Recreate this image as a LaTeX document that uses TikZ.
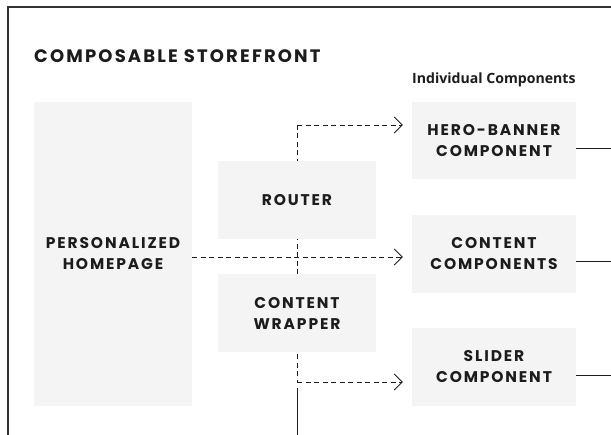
\documentclass[tikz,border=0pt]{standalone}
\usepackage{fontspec}
\usepackage{xcolor}
\usetikzlibrary{arrows.meta,backgrounds}
\setmainfont{Poppins}
\newfontfamily\capsfont[LetterSpace=12]{Poppins}
\newfontfamily\notefont{Open Sans}
\definecolor{boxcolor}{HTML}{F4F4F4}
\definecolor{inkcolor}{HTML}{1C1C1C}
\definecolor{framecolor}{HTML}{333333}

\tikzset{
  compbox/.style={fill=boxcolor, inner sep=0pt, align=center, text=inkcolor,
    font=\capsfont\bfseries\fontsize{15.5}{21}\selectfont},
  dashline/.style={draw=inkcolor, line width=0.9pt, dash pattern=on 5pt off 3.5pt},
  dasharrow/.style={dashline, -{Straight Barb[length=8pt,width=16pt,line width=0.9pt]}},
  solidline/.style={draw=inkcolor, line width=0.9pt}
}

\begin{document}
\begin{tikzpicture}[x=1pt, y=-1pt]
                        \useasboundingbox (0,0) rectangle (611,435);
                        \draw[framecolor, line width=1.3pt] (8,435) -- (8,7) -- (611,7);
                        \node[anchor=base west, text=inkcolor, font=\capsfont\bfseries\fontsize{18}{18}\selectfont, inner sep=0pt] (title) at (34,62.7) {COMPOSABLE STOREFRONT};
                        \node[anchor=base west, text=inkcolor, font=\notefont\bfseries\fontsize{14.1}{14.1}\selectfont, inner sep=0pt] (indiv) at (412,84) {Individual Components};
                        \node[compbox, minimum width=158pt, minimum height=304pt] (home) at (113,254) {PERSONALIZED\\HOMEPAGE};
                        \node[compbox, minimum width=158pt, minimum height=78pt] (router) at (297,200) {ROUTER};
                        \node[compbox, minimum width=158pt, minimum height=78pt] (wrapper) at (297,313) {CONTENT\\WRAPPER};
                        \node[compbox, minimum width=164pt, minimum height=77pt] (hero) at (494,140.5) {HERO-BANNER\\COMPONENT};
                        \node[compbox, minimum width=164pt, minimum height=78pt] (content) at (494,254) {CONTENT\\COMPONENTS};
                        \node[compbox, minimum width=164pt, minimum height=78pt] (slider) at (494,367) {SLIDER\\COMPONENT};
                        \coordinate (forktop) at (297,125);
                        \coordinate (forkbot) at (297,382);
                        \coordinate (wraptail) at (297,388);
                        \coordinate (wrapend) at (297,435);
                        \coordinate (heroout) at (611,148);
                        \coordinate (contentout) at (611,261);
                        \coordinate (sliderout) at (611,375);
                        \begin{scope}[on background layer]
                        \draw[dashline] (forktop) -- (forkbot);
                        \end{scope}
                        \draw[dasharrow] (forktop) -- ([xshift=-9pt]hero.west |- forktop);
                        \draw[dasharrow] ([yshift=-3pt]home.east) -- ([xshift=-9pt,yshift=-3pt]content.west);
                        \draw[dasharrow] (forkbot) -- ([xshift=-9pt]slider.west |- forkbot);
                        \draw[solidline] (wraptail) -- (wrapend);
                        \draw[solidline] (hero.east |- heroout) -- (heroout);
                        \draw[solidline] (content.east |- contentout) -- (contentout);
                        \draw[solidline] (slider.east |- sliderout) -- (sliderout);
                    \end{tikzpicture}
\end{document}
